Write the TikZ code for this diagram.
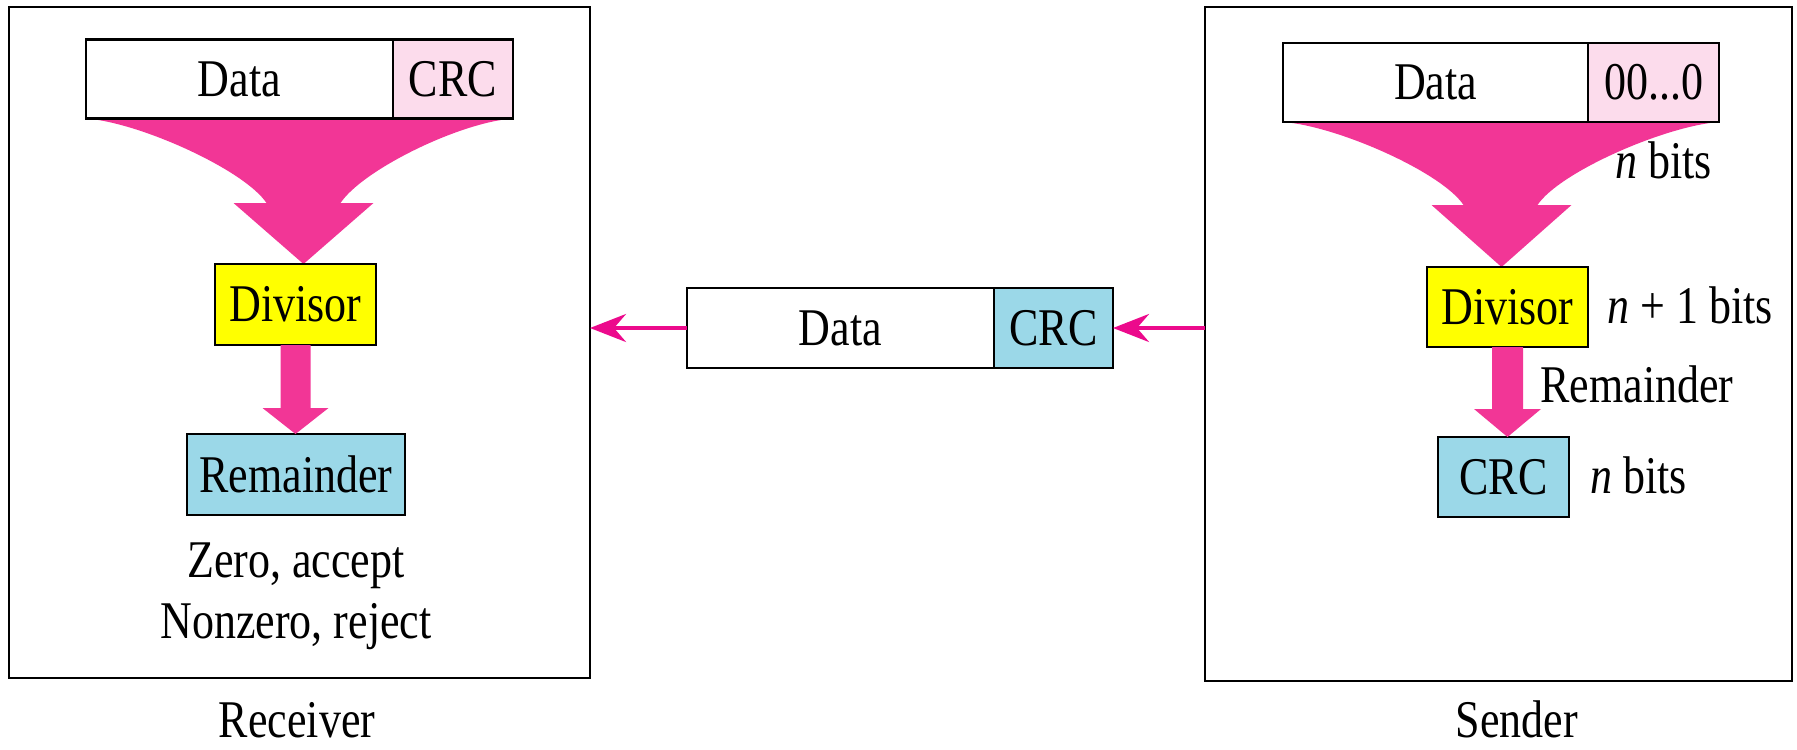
\documentclass[tikz,border=0pt]{standalone}
\usepackage{fontspec}
\setmainfont{Liberation Serif}[FakeStretch=0.83]
\usetikzlibrary{arrows.meta,calc}
\pgfdeclarelayer{bg}
\pgfsetlayers{bg,main}
\definecolor{funnelpink}{RGB}{242,54,150}
\definecolor{palepink}{RGB}{252,220,236}
\definecolor{paleblue}{RGB}{155,216,232}
\definecolor{divyellow}{RGB}{255,255,0}
\definecolor{linkmag}{RGB}{236,10,140}

\begin{document}
\begin{tikzpicture}[x=0.5pt,y=-0.5pt,
  every node/.style={font=\fontsize{26.5}{30}\selectfont, inner sep=0pt},
  frame/.style={draw=black, line width=1.3pt, outer sep=0pt},
  cell/.style={draw=black, line width=1.4pt, outer sep=0pt, minimum height=39.5pt},
  flow/.style={fill=funnelpink},
  link/.style={draw=linkmag, line width=2pt, -{Stealth[length=18pt,width=14pt,inset=6pt]}},
  lbl/.style={anchor=base west},
]
\useasboundingbox (0,0) rectangle (1797,749);

% enclosing frames
\node[frame, minimum width=290.5pt, minimum height=335.5pt] (rframe) at (299.5,342.5) {};
\node[frame, minimum width=293.5pt, minimum height=337pt] (sframe) at (1498.5,344) {};

% ---------- receiver ----------
\node[cell, minimum width=153.5pt] (rdata) at (239.5,79) {Data};
\node[cell, fill=palepink, minimum width=60pt, anchor=west] (rcrc) at (rdata.east) {CRC};
\node[cell, fill=divyellow, minimum width=80.5pt, minimum height=40.5pt] (rdiv) at (295.5,304.5) {Divisor};
\node[cell, fill=paleblue, minimum width=109pt, minimum height=40.5pt] (rrem) at (296,474.5) {Remainder};
\node[anchor=base] (racc) at (296,577) {Zero, accept};
\node[anchor=base] (rrej) at (296,638) {Nonzero, reject};
\node[anchor=base] (rlabel) at (297,737) {Receiver};

\coordinate (rtip) at ($(rdiv.north)+(8,0)$);
\begin{pgfonlayer}{bg}
\fill[flow] (rdata.south west)
  .. controls ($(rdata.south west)+(54,4)$) and ($(rtip)+(-59,-94)$) .. ($(rtip)+(-37,-61)$)
  -- ($(rtip)+(-70,-61)$) -- (rtip) -- ($(rtip)+(70,-61)$) -- ($(rtip)+(37,-61)$)
  .. controls ($(rtip)+(59,-94)$) and ($(rcrc.south east)+(-54,4)$) .. (rcrc.south east)
  -- cycle;
\end{pgfonlayer}
\fill[flow] let \p1=(rdiv.south), \p2=(rrem.north) in
  (\x1-7.5pt,\y1) -- (\x1+7.5pt,\y1) -- (\x1+7.5pt,\y2+13pt) -- (\x1+16.5pt,\y2+13pt)
  -- (\x1,\y2) -- (\x1-16.5pt,\y2+13pt) -- (\x1-7.5pt,\y2+13pt) -- cycle;

% ---------- frame in transit ----------
\node[cell, minimum width=153.5pt, minimum height=40pt] (mdata) at (840.5,328) {Data};
\node[cell, fill=paleblue, minimum width=59.5pt, minimum height=40pt, anchor=west] (mcrc) at (mdata.east) {CRC};
\draw[link] (mdata.west) -- (rframe.east |- mdata.west);
\draw[link] (sframe.west |- mcrc.east) -- (mcrc.east);

% ---------- sender ----------
\node[cell, minimum width=152.5pt] (sdata) at (1435.5,82.5) {Data};
\node[cell, fill=palepink, minimum width=65.5pt, anchor=west] (szero) at (sdata.east) {00...0};
\node[cell, fill=divyellow, minimum width=80.5pt, minimum height=40pt] (sdiv) at (1507.5,307) {Divisor};
\node[cell, fill=paleblue, minimum width=65.5pt, minimum height=40pt] (scrc) at (1503.5,477) {CRC};
\node[lbl] (nbitsA) at (1615,178) {\textit{n} bits};
\node[lbl] (nbitsB) at (1607,323) {\textit{n} + 1 bits};
\node[lbl] (remlbl) at (1540,402) {Remainder};
\node[lbl] (nbitsC) at (1590,493) {\textit{n} bits};
\node[anchor=base] (slabel) at (1517,737) {Sender};

\coordinate (stip) at ($(sdiv.north)+(-6,0)$);
\begin{pgfonlayer}{bg}
\fill[flow] (sdata.south west)
  .. controls ($(sdata.south west)+(54,4)$) and ($(stip)+(-60,-95)$) .. ($(stip)+(-38,-62)$)
  -- ($(stip)+(-70,-62)$) -- (stip) -- ($(stip)+(70,-62)$) -- ($(stip)+(36,-62)$)
  .. controls ($(stip)+(58,-95)$) and ($(szero.south east)+(-54,4)$) .. (szero.south east)
  -- cycle;
\end{pgfonlayer}
\fill[flow] let \p1=(sdiv.south), \p2=(scrc.north) in
  (\x1-7.75pt,\y1) -- (\x1+7.75pt,\y1) -- (\x1+7.75pt,\y2+14pt) -- (\x1+16.75pt,\y2+14pt)
  -- (\x1,\y2) -- (\x1-16.75pt,\y2+14pt) -- (\x1-7.75pt,\y2+14pt) -- cycle;
\end{tikzpicture}
\end{document}
